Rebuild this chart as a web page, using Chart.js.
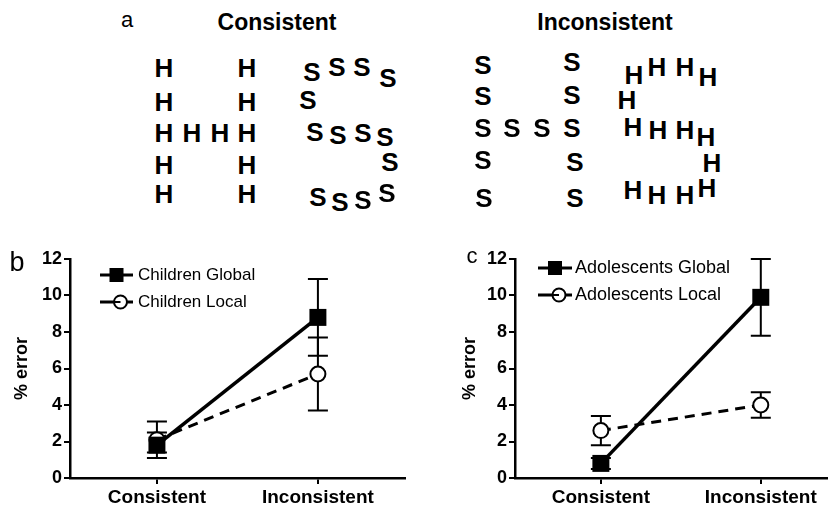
<!DOCTYPE html>
<html>
<head>
<meta charset="utf-8">
<script src="https://cdn.jsdelivr.net/npm/chart.js@4.4.1/dist/chart.umd.min.js"></script>
<style>
  html,body{margin:0;padding:0;background:#fff;}
  #root{position:relative;width:839px;height:510px;overflow:hidden;font-family:"Liberation Sans",Arial,sans-serif;color:#000;}
  .t{position:absolute;transform:translate(-50%,-50%);white-space:nowrap;line-height:1;}
  .ltr{font-weight:bold;font-size:26px;}
  .ttl{font-weight:bold;font-size:23px;}
  .pl{font-size:21px;}
  .box{position:absolute;}
</style>
</head>
<body>
<div id="root">
  <div class="box" id="boxB" style="left:0;top:240px;width:420px;height:270px;"><canvas id="chartB"></canvas></div>
  <div class="box" id="boxC" style="left:420px;top:240px;width:419px;height:270px;"><canvas id="chartC"></canvas></div>
</div>
<script>
// ---------- data ----------
const categories = ['Consistent', 'Inconsistent'];
const yTicks = [0, 2, 4, 6, 8, 10, 12];

const childrenGlobal = [1.8, 8.8];
const childrenGlobalLow = [1.1, 6.7];
const childrenGlobalHigh = [2.5, 10.9];
const childrenLocal = [2.1, 5.7];
const childrenLocalLow = [1.4, 3.7];
const childrenLocalHigh = [3.1, 7.7];

const adolescentsGlobal = [0.8, 9.9];
const adolescentsGlobalLow = [0.5, 7.8];
const adolescentsGlobalHigh = [1.1, 12.0];
const adolescentsLocal = [2.6, 4.0];
const adolescentsLocalLow = [1.8, 3.3];
const adolescentsLocalHigh = [3.4, 4.7];

// ---------- panel a (stimulus illustration, layout only) ----------
const root = document.getElementById('root');
function addText(txt, x, y, cls, size) {
  const d = document.createElement('div');
  d.className = 't ' + cls;
  d.style.left = x + 'px';
  d.style.top = y + 'px';
  if (size) d.style.fontSize = size + 'px';
  d.textContent = txt;
  root.appendChild(d);
}
addText('a', 127, 20, 'pl', 22);
addText('Consistent', 277, 22, 'ttl');
addText('Inconsistent', 605, 22, 'ttl');
addText('b', 17, 262, 'pl', 27);
addText('c', 472, 256, 'pl', 22);

const hRows = [68, 102, 133, 165, 194];
const consH = [];
hRows.forEach(y => { consH.push([164, y]); consH.push([247, y]); });
consH.push([192, 133], [220, 133]);
const consS = [[312,72],[337,67],[362,67],[388,78],[308,100],[315,132],[338,135],[363,133],[385,137],[390,162],[318,197],[340,202],[363,200],[387,193]];
const incS = [[483,65],[483,96],[483,128],[483,160],[484,198],[572,62],[572,95],[572,128],[575,162],[575,198],[512,128],[542,128]];
const incH = [[634,75],[657,67],[685,67],[708,77],[627,100],[633,127],[658,130],[685,130],[706,137],[712,163],[633,190],[657,195],[685,195],[707,188]];
consH.forEach(p => addText('H', p[0], p[1], 'ltr'));
consS.forEach(p => addText('S', p[0], p[1], 'ltr'));
incS.forEach(p => addText('S', p[0], p[1], 'ltr'));
incH.forEach(p => addText('H', p[0], p[1], 'ltr'));

// ---------- charts ----------
const FONT = '"Liberation Sans", Arial, sans-serif';

const errorBars = {
  id: 'errorBars',
  beforeDatasetsDraw(chart) {
    const { ctx, scales: { x, y } } = chart;
    ctx.save();
    ctx.strokeStyle = '#000';
    ctx.lineWidth = 2;
    chart.data.datasets.forEach(ds => {
      ds.data.forEach((pt, i) => {
        const px = x.getPixelForValue(pt.x);
        const lo = y.getPixelForValue(ds.errLow[i]);
        const hi = y.getPixelForValue(ds.errHigh[i]);
        const cw = 10;
        ctx.beginPath();
        ctx.moveTo(px, lo); ctx.lineTo(px, hi);
        ctx.moveTo(px - cw, lo); ctx.lineTo(px + cw, lo);
        ctx.moveTo(px - cw, hi); ctx.lineTo(px + cw, hi);
        ctx.stroke();
      });
    });
    ctx.restore();
  }
};

const lineLegend = {
  id: 'lineLegend',
  afterDraw(chart, args, opts) {
    const { ctx } = chart;
    ctx.save();
    chart.data.datasets.forEach((ds, i) => {
      const y = opts.y[i];
      ctx.strokeStyle = '#000';
      ctx.lineWidth = 3;
      ctx.setLineDash([]);
      ctx.beginPath();
      ctx.moveTo(opts.x0, y); ctx.lineTo(opts.x1, y);
      ctx.stroke();
      const mx = (opts.x0 + opts.x1) / 2 + (ds.pointStyle === 'rect' ? 0 : 4);
      if (ds.pointStyle === 'rect') {
        ctx.fillStyle = '#000';
        ctx.fillRect(mx - 7, y - 7, 14, 14);
      } else {
        ctx.fillStyle = '#fff';
        ctx.lineWidth = 2;
        ctx.beginPath();
        ctx.arc(mx, y, 6.5, 0, Math.PI * 2);
        ctx.fill();
        ctx.stroke();
        ctx.beginPath();
        ctx.moveTo(mx - 6, y); ctx.lineTo(mx, y);
        ctx.stroke();
      }
      ctx.fillStyle = '#000';
      ctx.font = opts.fontSize + 'px ' + FONT;
      ctx.textBaseline = 'middle';
      ctx.textAlign = 'left';
      ctx.fillText(ds.label, opts.tx, y);
    });
    ctx.restore();
  }
};

function makeDatasets(gLabel, g, gLo, gHi, lLabel, l, lLo, lHi) {
  return [
    {
      label: gLabel,
      data: g.map((v, i) => ({ x: i, y: v })),
      errLow: gLo, errHigh: gHi,
      borderColor: '#000', backgroundColor: '#000',
      borderWidth: 3.5,
      pointStyle: 'rect', pointRadius: 12, pointBorderWidth: 0,
      pointBackgroundColor: '#000',
      tension: 0
    },
    {
      label: lLabel,
      data: l.map((v, i) => ({ x: i, y: v })),
      errLow: lLo, errHigh: lHi,
      borderColor: '#000', backgroundColor: '#fff',
      borderWidth: 3, borderDash: [10, 7],
      pointStyle: 'circle', pointRadius: 7.5, pointBorderWidth: 2,
      pointBackgroundColor: '#fff', pointBorderColor: '#000',
      tension: 0
    }
  ];
}

function makeOptions(cfg) {
  return {
    responsive: true,
    maintainAspectRatio: false,
    animation: false,
    devicePixelRatio: 1,
    layout: { padding: { top: 19, right: cfg.padRight, left: 0, bottom: 0 } },
    plugins: {
      legend: { display: false },
      tooltip: { enabled: false },
      lineLegend: cfg.legend
    },
    scales: {
      x: {
        type: 'linear',
        min: cfg.xMin, max: cfg.xMax,
        afterBuildTicks: s => { s.ticks = categories.map((c, i) => ({ value: i })); },
        afterFit: s => { s.height = 32; },
        ticks: {
          callback: v => categories[v] || '',
          color: '#000',
          font: { family: FONT, size: 19, weight: 'bold' },
          padding: 2,
          maxRotation: 0,
          autoSkip: false
        },
        grid: { drawOnChartArea: false, drawTicks: true, tickLength: 6, color: '#000', lineWidth: 2 },
        border: { display: true, color: '#000', width: 2.5 }
      },
      y: {
        min: 0, max: 12,
        afterBuildTicks: s => { s.ticks = yTicks.map(v => ({ value: v })); },
        afterFit: s => { s.width = cfg.yWidth; },
        ticks: {
          color: '#000',
          font: { family: FONT, size: 18, weight: 'bold' },
          padding: 2
        },
        grid: { drawOnChartArea: false, drawTicks: true, tickLength: 6, color: '#000', lineWidth: 2 },
        border: { display: true, color: '#000', width: 2.5 },
        title: {
          display: true, text: '% error', color: '#000',
          font: { family: FONT, size: 18, weight: 'bold' },
          padding: { top: cfg.titlePad, bottom: 0 }
        }
      }
    }
  };
}

new Chart(document.getElementById('chartB'), {
  type: 'line',
  data: {
    datasets: makeDatasets('Children Global', childrenGlobal, childrenGlobalLow, childrenGlobalHigh,
                           'Children Local', childrenLocal, childrenLocalLow, childrenLocalHigh)
  },
  options: makeOptions({
    padRight: 15, yWidth: 70, titlePad: 11, xMin: -0.54, xMax: 1.541,
    legend: { x0: 100, x1: 133, tx: 138, y: [35, 62], fontSize: 17 }
  }),
  plugins: [errorBars, lineLegend]
});

new Chart(document.getElementById('chartC'), {
  type: 'line',
  data: {
    datasets: makeDatasets('Adolescents Global', adolescentsGlobal, adolescentsGlobalLow, adolescentsGlobalHigh,
                           'Adolescents Local', adolescentsLocal, adolescentsLocalLow, adolescentsLocalHigh)
  },
  options: makeOptions({
    padRight: 4, yWidth: 95, titlePad: 39, xMin: -0.537, xMax: 1.414,
    legend: { x0: 118, x1: 152, tx: 155, y: [28, 55], fontSize: 18 }
  }),
  plugins: [errorBars, lineLegend]
});
</script>
</body>
</html>
